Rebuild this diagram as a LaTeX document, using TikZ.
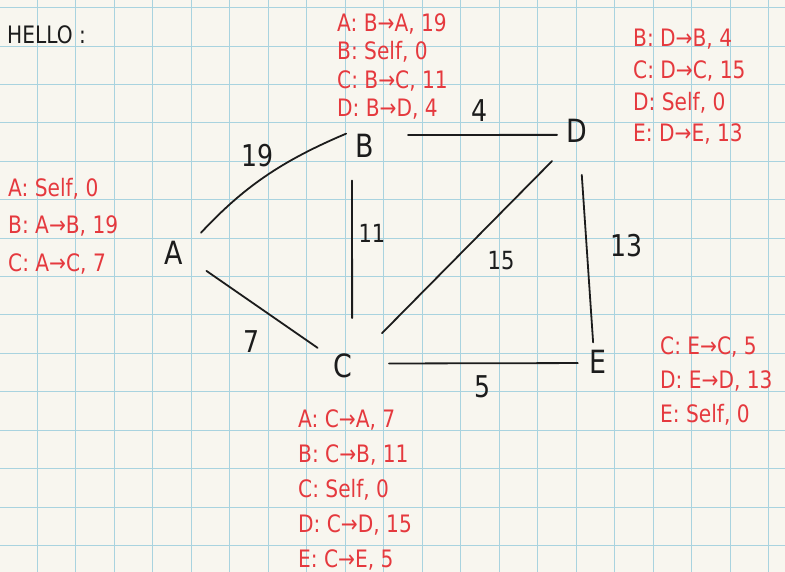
\documentclass[tikz,border=0pt]{standalone}
\usepackage{fontspec}
\setmainfont{DejaVu Sans}
\newfontfamily\hand[FakeStretch=0.84]{DejaVu Sans}
\usetikzlibrary{positioning}
\definecolor{paper}{HTML}{F8F6EF}
\definecolor{gridblue}{HTML}{A9D3DF}
\definecolor{ink}{HTML}{1C1C1C}
\definecolor{redink}{HTML}{E5393E}
\tikzset{
  vertex/.style={circle, minimum size=40pt, inner sep=0pt, text=ink,
                 font=\hand\fontsize{32}{32}\selectfont},
  weight/.style={text=ink, inner sep=0pt, font=\hand\fontsize{30}{30}\selectfont},
  smallweight/.style={weight, font=\hand\fontsize{25}{25}\selectfont},
  hello/.style={text=ink, inner sep=0pt, font=\hand\fontsize{24}{24}\selectfont},
  dist/.style={text=redink, anchor=north west, align=left, inner sep=0pt,
               font=\hand\fontsize{24}{#1}\selectfont},
  link/.style={draw=ink, line width=1.8pt, line cap=round},
  gridline/.style={gridblue, line width=1pt},
}
\begin{document}
\begin{tikzpicture}[x=1pt, y=-1pt]
  \fill[paper] (0,0) rectangle (785,572);
  \useasboundingbox (0,0) rectangle (785,572);
  \foreach \i in {0,...,20} \draw[gridline] ({37+38.5*(\i-1)},0) -- ++(0,572);
  \foreach \j in {0,...,14} \draw[gridline] (0,{7.8+38.4*\j}) -- ++(785,0);

  \node[hello, anchor=west] (hello) at (7,35) {HELLO :};

  \node[vertex] (A) at (174,253) {A};
  \node[vertex] (B) at (365,146) {B};
  \node[vertex] (C) at (343,366) {C};
  \node[vertex] (D) at (577,131) {D};
  \node[vertex] (E) at (598,362) {E};

  \draw[link, shorten <=14pt, shorten >=5pt] (A.30) to[bend left=12] (B.135);
  \foreach \s/\sa/\t/\ta/\sh/\th in {A/-24/C/144/17pt/11pt, B/-130/C/63/19pt/30pt,
      B/33/D/191/26pt/0pt, C/32/D/235/31pt/19pt, C/7/E/183/26pt/0pt, D/-81/E/104/24pt/0pt}
    \draw[link, shorten <=\sh, shorten >=\th] (\s.\sa) -- (\t.\ta);

  \node[weight] (w19) at (258,156) {19};
  \node[weight] (w4) at (480,111) {4};
  \node[smallweight] (w11) at (372,233) {11};
  \node[smallweight] (w15) at (501,261) {15};
  \node[weight] (w13) at (627,246) {13};
  \node[weight] (w7) at (252,342) {7};
  \node[weight] (w5) at (483,387) {5};

  \node[dist=37.5] (tA) at (8,178) {A: Self, 0\\B: A→B, 19\\C: A→C, 7};
  \node[dist=28.5] (tB) at (337,13) {A: B→A, 19\\B: Self, 0\\C: B→C, 11\\D: B→D, 4};
  \node[dist=35] (tC) at (298,409) {A: C→A, 7\\B: C→B, 11\\C: Self, 0\\D: C→D, 15\\E: C→E, 5};
  \node[dist=31.7] (tD) at (633,29) {B: D→B, 4\\C: D→C, 15\\D: Self, 0\\E: D→E, 13};
  \node[dist=34] (tE) at (660,336) {C: E→C, 5\\D: E→D, 13\\E: Self, 0};
\end{tikzpicture}
\end{document}
